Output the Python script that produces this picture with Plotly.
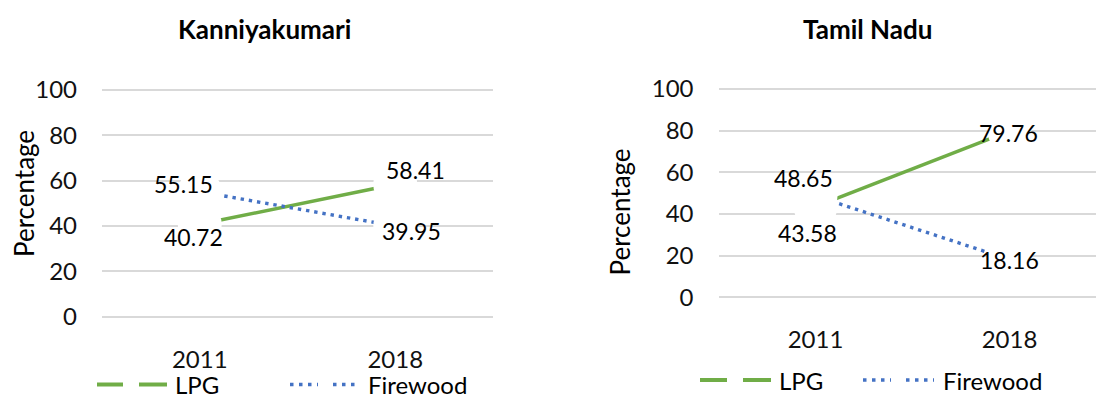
import plotly.graph_objects as go

# Household cooking fuel share (%) by year
years = ["2011", "2018"]
kanniyakumari_lpg = [40.72, 58.41]
kanniyakumari_firewood = [55.15, 39.95]
tamilnadu_lpg = [43.58, 79.76]
tamilnadu_firewood = [48.65, 18.16]

W, H = 1096, 401
GREEN = "#70AD47"
BLUE = "#4472C4"
GRID = "#D9D9D9"
FONT = "Lato"
PAD = 1.0  # small range padding so the 0 and 100 gridlines are drawn


def px(x):
    return x / W


def py(y):
    return 1 - y / H


fig = go.Figure()

panels = [
    ("x", "y", kanniyakumari_lpg, kanniyakumari_firewood),
    ("x2", "y2", tamilnadu_lpg, tamilnadu_firewood),
]

# lines first, then white point masks on top of every line
for xa, ya, lpg, fw in panels:
    fig.add_trace(go.Scatter(x=years, y=lpg, mode="lines", xaxis=xa, yaxis=ya,
                             line=dict(color=GREEN, width=3.5), showlegend=False))
    fig.add_trace(go.Scatter(x=years, y=fw, mode="lines", xaxis=xa, yaxis=ya,
                             line=dict(color=BLUE, width=3.4, dash="3.4px,4.9px"),
                             showlegend=False))
for xa, ya, lpg, fw in panels:
    for series in (lpg, fw):
        fig.add_trace(go.Scatter(x=years, y=series, mode="markers", xaxis=xa, yaxis=ya,
                                 marker=dict(color="white", size=44, line=dict(width=0)),
                                 showlegend=False, hoverinfo="skip"))

axis_common = dict(showline=False, zeroline=False, ticks="", automargin=False,
                   tickfont=dict(family=FONT, size=24, color="#111"))

# pixel geometry of each plot: bottom (value 0) and top (value 100)
l_bot, l_top = 316.6, 90.0
r_bot, r_top = 297.4, 88.9
l_k = (l_bot - l_top) / 100
r_k = (r_bot - r_top) / 100

fig.update_layout(
    width=W, height=H, autosize=False,
    margin=dict(l=0, r=0, t=0, b=0, pad=0, autoexpand=False),
    paper_bgcolor="white", plot_bgcolor="white",
    showlegend=False,
    xaxis=dict(domain=[px(102), px(493)], anchor="y", type="category",
               range=[-0.5, 1.5], showgrid=False, ticklabelstandoff=24, **axis_common),
    yaxis=dict(domain=[py(l_bot + PAD * l_k), py(l_top - PAD * l_k)], anchor="x",
               range=[-PAD, 100 + PAD], tickvals=[0, 20, 40, 60, 80, 100],
               showgrid=True, gridcolor=GRID, gridwidth=2, ticklabelstandoff=24,
               **axis_common),
    xaxis2=dict(domain=[px(718.5), 1.0], anchor="y2", type="category",
                range=[-0.5, -0.5 + 377.5 / 194], showgrid=False, ticklabelstandoff=24,
                **axis_common),
    yaxis2=dict(domain=[py(r_bot + PAD * r_k), py(r_top - PAD * r_k)], anchor="x2",
                range=[-PAD, 100 + PAD], tickvals=[0, 20, 40, 60, 80, 100],
                showgrid=True, gridcolor=GRID, gridwidth=2, ticklabelstandoff=24,
                **axis_common),
)

ann = []

# chart titles
for text, cx in (("Kanniyakumari", 264), ("Tamil Nadu", 867)):
    ann.append(dict(text=f"<b>{text}</b>", x=px(cx), y=py(29), xref="paper", yref="paper",
                    showarrow=False, xanchor="center", yanchor="middle",
                    font=dict(family=FONT, size=26, color="black")))

# y-axis titles
for cx, cy in ((24.7, 193.3), (619, 212.5)):
    ann.append(dict(text="Percentage", x=px(cx), y=py(cy), xref="paper", yref="paper",
                    textangle=-90, showarrow=False, xanchor="center", yanchor="middle",
                    font=dict(family=FONT, size=26, color="black")))

# data labels: (axes, series, point index, xshift, yshift)
label_specs = [
    ("x", "y", kanniyakumari_firewood, 0, -16.5, 7.8),
    ("x", "y", kanniyakumari_lpg, 0, -6, -12.9),
    ("x", "y", kanniyakumari_lpg, 1, 20, 14.7),
    ("x", "y", kanniyakumari_firewood, 1, 16.7, -4.7),
    ("x2", "y2", tamilnadu_firewood, 0, -11.8, 17.7),
    ("x2", "y2", tamilnadu_lpg, 0, -7.7, -26.8),
    ("x2", "y2", tamilnadu_lpg, 1, -0.7, -1.4),
    ("x2", "y2", tamilnadu_firewood, 1, 0, -0.5),
]
for xa, ya, series, i, dx, dy in label_specs:
    ann.append(dict(text=f"{series[i]:.2f}", x=i, y=series[i], xref=xa, yref=ya,
                    showarrow=False, xanchor="center", yanchor="middle",
                    xshift=dx, yshift=dy,
                    font=dict(family=FONT, size=23, color="black")))

# legends
shapes = []
legend_rows = [
    (384.5, [(97, 123), (139, 167)], 174, [(290, 318), (333, 360)], 367),
    (380.0, [(700, 727), (743, 771)], 778, [(863, 891), (906, 934)], 942),
]
for ly, lpg_segs, lpg_tx, fw_segs, fw_tx in legend_rows:
    for x0, x1 in lpg_segs:
        shapes.append(dict(type="line", xref="paper", yref="paper",
                           x0=px(x0), x1=px(x1), y0=py(ly), y1=py(ly),
                           line=dict(color=GREEN, width=4)))
    for x0, x1 in fw_segs:
        shapes.append(dict(type="line", xref="paper", yref="paper",
                           x0=px(x0), x1=px(x1), y0=py(ly), y1=py(ly),
                           line=dict(color=BLUE, width=3.5, dash="3.5px,5.5px")))
    for text, tx in (("LPG", lpg_tx), ("Firewood", fw_tx)):
        ann.append(dict(text=text, x=px(tx), y=py(ly), xref="paper", yref="paper",
                        showarrow=False, xanchor="left", yanchor="middle", borderpad=0,
                        font=dict(family=FONT, size=24, color="black")))

fig.update_layout(annotations=ann, shapes=shapes)
fig.write_html("out.html")
